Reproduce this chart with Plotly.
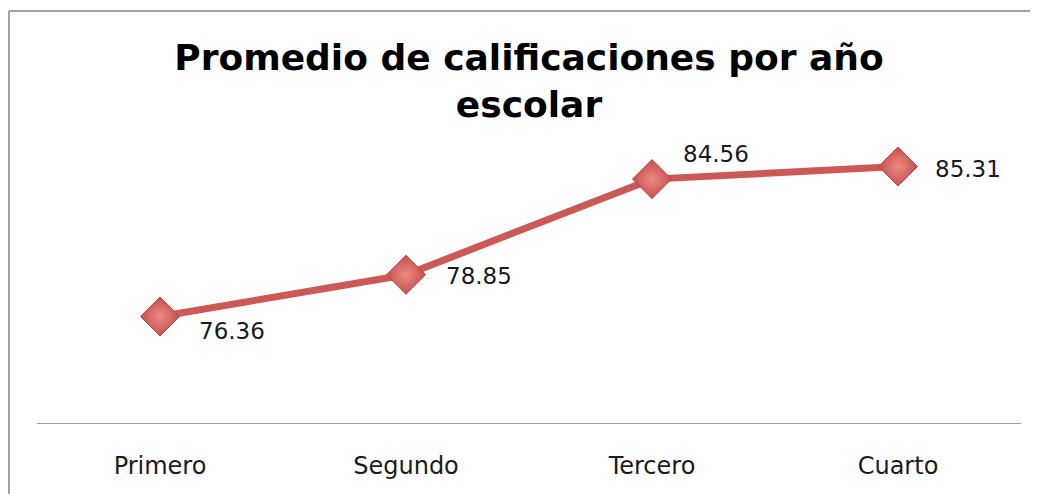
import plotly.graph_objects as go

categories = ["Primero", "Segundo", "Tercero", "Cuarto"]
values = [76.36, 78.85, 84.56, 85.31]
title_text = "Promedio de calificaciones por año<br>escolar"

# label offsets (pixels) relative to each point
label_dx = [72, 73, 64, 70]
label_dy = [-15, -1, 25, -2]

fig = go.Figure()
fig.add_trace(go.Scatter(
    x=categories, y=values, mode="lines+markers",
    line=dict(color="#CD5956", width=7),
    marker=dict(symbol="diamond", size=30, color="#C4504C",
                gradient=dict(type="radial", color="#EE8A82"),
                line=dict(color="#B8433F", width=1)),
    hoverinfo="skip", showlegend=False,
))

for c, v, dx, dy in zip(categories, values, label_dx, label_dy):
    fig.add_annotation(x=c, y=v, text=f"{v:.2f}", showarrow=False,
                       xshift=dx, yshift=dy,
                       font=dict(family="DejaVu Sans", size=23, color="#1a1a1a"))

fig.update_layout(
    width=1038, height=494,
    margin=dict(l=29, r=25, t=80, b=79),
    paper_bgcolor="white", plot_bgcolor="white",
    title=dict(text=title_text, x=0.5, xref="paper", xanchor="center",
               y=0.874, yref="container", yanchor="top",
               font=dict(family="DejaVu Sans", size=36, color="black", weight="bold")),
    xaxis=dict(range=[-0.5, 3.5], showline=True, linecolor="#9a9a9a", linewidth=1,
               showgrid=False, zeroline=False, ticks="", ticklabelstandoff=21,
               tickfont=dict(family="DejaVu Sans", size=24, color="#1a1a1a")),
    yaxis=dict(range=[70, 90], visible=False, showgrid=False, zeroline=False),
    shapes=[
        dict(type="line", xref="paper", yref="paper", x0=-0.0285, x1=1.05,
             y0=1.2299, y1=1.2299, line=dict(color="#A0A0A0", width=2)),
        dict(type="line", xref="paper", yref="paper", x0=-0.0285, x1=-0.0285,
             y0=1.2299, y1=-0.3, line=dict(color="#A0A0A0", width=2)),
    ],
)

fig.write_html("out.html")
